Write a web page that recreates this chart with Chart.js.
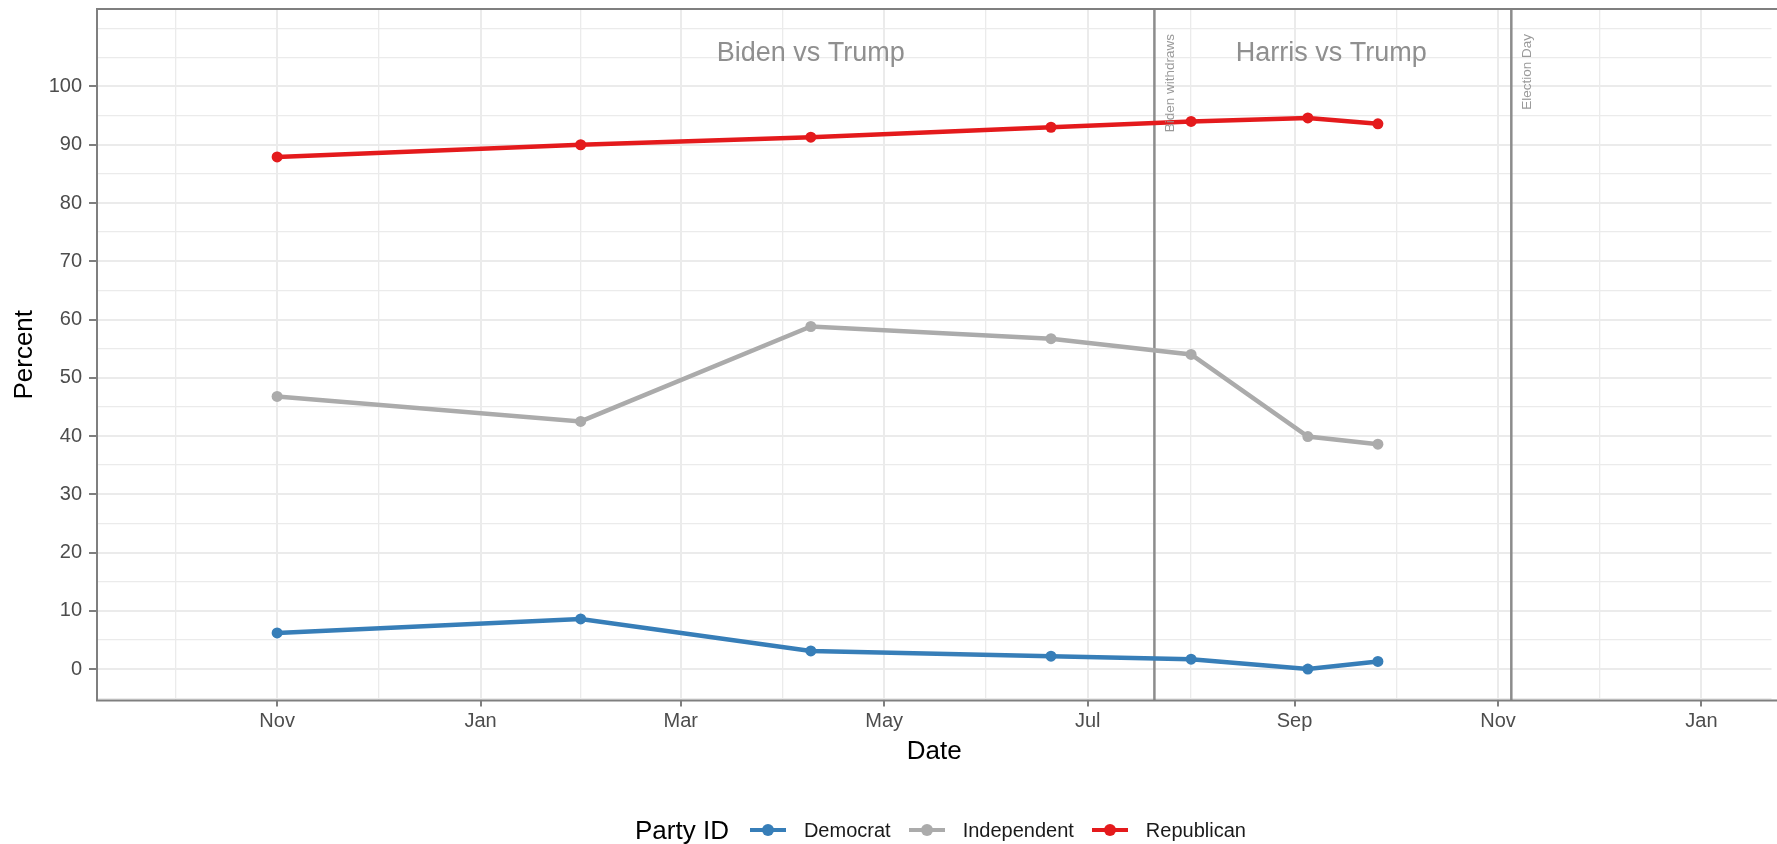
<!DOCTYPE html>
<html>
<head>
<meta charset="utf-8">
<title>Party ID vote share</title>
<script src="https://cdn.jsdelivr.net/npm/chart.js@4.4.1/dist/chart.umd.min.js"></script>
<style>
  body { margin: 0; background: #fff; font-family: "Liberation Sans", Arial, Helvetica, sans-serif; }
  #wrap { position: relative; width: 1777px; height: 844px; overflow: hidden; }
  #legend { position: absolute; left: 635px; top: 810px; height: 40px; display: flex; align-items: center; font-size: 20px; color: #1a1a1a; white-space: nowrap; }
  #legend .title { font-size: 26px; color: #000; margin-right: 21px; }
  #legend .key { position: relative; width: 36px; height: 4px; margin-right: 18px; }
  #legend .key i { position: absolute; left: 12px; top: -4px; width: 12px; height: 12px; border-radius: 50%; background: inherit; }
  #legend .label { margin-right: 18px; }
</style>
</head>
<body>
<div id="wrap">
  <canvas id="chart" width="1777" height="844"></canvas>
  <div id="legend"></div>
</div>
<script>
// poll dates and shares by party ID
const pollDates = ["2023-11-01", "2024-01-31", "2024-04-09", "2024-06-20", "2024-08-01", "2024-09-05", "2024-09-26"];
const democrat = [6.2, 8.6, 3.1, 2.2, 1.7, 0.0, 1.3];
const independent = [46.8, 42.5, 58.8, 56.7, 54.0, 39.9, 38.6];
const republican = [87.9, 90.0, 91.3, 93.0, 94.0, 94.6, 93.6];

const seriesNames = ["Democrat", "Independent", "Republican"];
const seriesColors = ["#377eb8", "#ababab", "#e41a1c"];

// axis breaks
const monthTickDates = ["2023-09-01", "2023-11-01", "2024-01-01", "2024-03-01", "2024-05-01", "2024-07-01",
  "2024-09-01", "2024-11-01", "2025-01-01", "2025-03-01"];
const monthTickLabels = ["Sep", "Nov", "Jan", "Mar", "May", "Jul", "Sep", "Nov", "Jan", "Mar"];
const percentTicks = [0, 10, 20, 30, 40, 50, 60, 70, 80, 90, 100];
const xStart = "2023-09-08";
const xEnd = "2025-01-22";
const yMin = -5.4;
const yMax = 113.3;

// annotations
const eventDates = ["2024-07-21", "2024-11-05"];
const eventLabels = ["Biden withdraws", "Election Day"];
const eventLabelTop = 109;
const periodDates = ["2024-04-09", "2024-09-12"];
const periodLabels = ["Biden vs Trump", "Harris vs Trump"];
const periodY = 105.6;

const toMs = d => new Date(d).getTime();

const xMin = toMs(xStart), xMax = toMs(xEnd);
const xLabels = new Map();
monthTickDates.forEach((d, i) => xLabels.set(toMs(d), monthTickLabels[i]));
let xGrid = [];
monthTickDates.forEach((d, i) => {
  const v = toMs(d);
  xGrid.push(v);
  if (i < monthTickDates.length - 1) xGrid.push((v + toMs(monthTickDates[i + 1])) / 2);
});
xGrid = xGrid.filter(v => v >= xMin && v <= xMax).sort((a, b) => a - b);

const yStep = percentTicks[1] - percentTicks[0];
const yMajor = new Set(percentTicks);
const yGrid = [];
for (let v = percentTicks[0] - yStep; v <= percentTicks[percentTicks.length - 1] + yStep; v += yStep / 2) {
  if (v >= yMin && v <= yMax) yGrid.push(v);
}

const seriesValues = [democrat, independent, republican];
const datasets = seriesNames.map((name, s) => ({
  label: name,
  data: pollDates.map((d, i) => ({ x: toMs(d), y: seriesValues[s][i] })),
  borderColor: seriesColors[s],
  backgroundColor: seriesColors[s],
  pointBackgroundColor: seriesColors[s],
  borderWidth: 4.5,
  pointRadius: 5.5,
  pointBorderWidth: 0,
  tension: 0
}));

const annotations = {
  id: "annotations",
  beforeDatasetsDraw(chart) {
    const { ctx, chartArea, scales: { x } } = chart;
    ctx.save();
    ctx.strokeStyle = "#8c8c8c";
    ctx.lineWidth = 2.5;
    eventDates.forEach(d => {
      const px = x.getPixelForValue(toMs(d));
      ctx.beginPath();
      ctx.moveTo(px, chartArea.top);
      ctx.lineTo(px, chartArea.bottom);
      ctx.stroke();
    });
    ctx.restore();
  },
  afterDatasetsDraw(chart) {
    const { ctx, chartArea, scales: { x, y } } = chart;
    ctx.save();
    ctx.fillStyle = "#8f8f8f";
    ctx.font = '27px "Liberation Sans", Arial, sans-serif';
    ctx.textAlign = "center";
    ctx.textBaseline = "middle";
    periodLabels.forEach((t, i) => {
      ctx.fillText(t, x.getPixelForValue(toMs(periodDates[i])), y.getPixelForValue(periodY));
    });

    ctx.fillStyle = "#9a9a9a";
    ctx.font = '13.5px "Liberation Sans", Arial, sans-serif';
    ctx.textAlign = "right";
    eventLabels.forEach((t, i) => {
      ctx.save();
      ctx.translate(x.getPixelForValue(toMs(eventDates[i])) + 16, y.getPixelForValue(eventLabelTop));
      ctx.rotate(-Math.PI / 2);
      ctx.fillText(t, 0, 0);
      ctx.restore();
    });

    // panel border
    ctx.strokeStyle = "#7f7f7f";
    ctx.lineWidth = 2;
    ctx.strokeRect(chartArea.left, chartArea.top, chartArea.width + 10, chartArea.height);
    ctx.restore();
  }
};

Chart.defaults.font.family = '"Liberation Sans", Arial, Helvetica, sans-serif';

new Chart(document.getElementById("chart"), {
  type: "line",
  data: { datasets },
  plugins: [annotations],
  options: {
    responsive: false,
    animation: false,
    devicePixelRatio: 1,
    layout: { padding: { top: 9, bottom: 73.5, left: 0, right: 0 } },
    plugins: { legend: { display: false }, tooltip: { enabled: false } },
    scales: {
      x: {
        type: "linear",
        min: xMin,
        max: xMax,
        afterBuildTicks: s => { s.ticks = xGrid.map(v => ({ value: v })); },
        afterFit: s => { s.height = 70; s.paddingLeft = 0; s.paddingRight = 0; },
        ticks: {
          autoSkip: false,
          maxRotation: 0,
          padding: 3,
          color: "#4d4d4d",
          font: { size: 20 },
          callback: v => xLabels.get(v) || ""
        },
        grid: {
          color: "#ebebeb",
          lineWidth: c => (c.tick && xLabels.has(c.tick.value)) ? 2 : 1.3,
          tickLength: 6,
          tickWidth: 1.5,
          tickColor: c => (c.tick && xLabels.has(c.tick.value)) ? "#555" : "rgba(0,0,0,0)"
        },
        border: { display: false },
        title: { display: true, text: "Date", color: "#000", font: { size: 26 }, padding: { top: 0, bottom: 3 } }
      },
      y: {
        type: "linear",
        min: yMin,
        max: yMax,
        afterBuildTicks: s => { s.ticks = yGrid.map(v => ({ value: v })); },
        afterFit: s => { s.width = 97; s.paddingTop = 0; s.paddingBottom = 0; },
        ticks: {
          autoSkip: false,
          padding: 7,
          color: "#4d4d4d",
          font: { size: 20 },
          callback: v => yMajor.has(v) ? String(v) : ""
        },
        grid: {
          color: "#ebebeb",
          lineWidth: c => (c.tick && yMajor.has(c.tick.value)) ? 2 : 1.3,
          tickLength: 8,
          tickWidth: 1.5,
          tickColor: c => (c.tick && yMajor.has(c.tick.value)) ? "#555" : "rgba(0,0,0,0)"
        },
        border: { display: false },
        title: { display: true, text: "Percent", color: "#000", font: { size: 26 }, padding: { top: 9, bottom: 0 } }
      }
    }
  }
});

// legend: "Party ID" title with line + point keys
const legend = document.getElementById("legend");
let html = '<span class="title">Party ID</span>';
seriesNames.forEach((name, i) => {
  html += `<span class="key" style="background:${seriesColors[i]}"><i></i></span><span class="label">${name}</span>`;
});
legend.innerHTML = html;
</script>
</body>
</html>
